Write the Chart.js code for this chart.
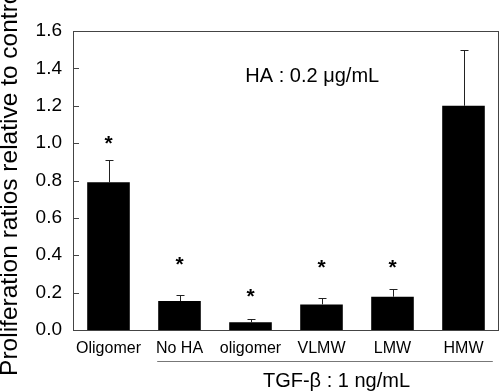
<!DOCTYPE html>
<html>
<head>
<meta charset="utf-8">
<script src="https://cdn.jsdelivr.net/npm/chart.js@4.4.0/dist/chart.umd.min.js"></script>
<style>
  html, body { margin: 0; padding: 0; background: #fff; }
</style>
</head>
<body>
<canvas id="prolifChart" width="500" height="392"></canvas>
<script>
// values
const categories = ['Oligomer', 'No HA', 'oligomer', 'VLMW', 'LMW', 'HMW'];
const ratios = [0.79, 0.155, 0.041, 0.137, 0.178, 1.20];
const errors = [0.12, 0.032, 0.016, 0.033, 0.040, 0.30];
const starLevels = [1.03, 0.38, 0.21, 0.364, 0.364, null];
const yTicks = [0, 0.2, 0.4, 0.6, 0.8, 1.0, 1.2, 1.4, 1.6];

const font = 'Liberation Sans, Arial, sans-serif';
const axisColor = '#444';

// box, inward ticks, error bars, asterisks and the text notes
const extras = {
    id: 'extras',
    afterDatasetsDraw(chart) {
        const ctx = chart.ctx;
        const area = chart.chartArea;
        const x = chart.scales.x;
        const y = chart.scales.y;
        const bars = chart.getDatasetMeta(0).data;
        ctx.save();

        // frame
        ctx.strokeStyle = axisColor;
        ctx.lineWidth = 1;
        ctx.strokeRect(area.left + 0.5, area.top + 0.5, area.right - area.left - 1, area.bottom - area.top);

        // inward ticks on y
        y.ticks.forEach(t => {
            const py = Math.round(y.getPixelForValue(t.value)) + 0.5;
            ctx.beginPath();
            ctx.moveTo(area.left, py);
            ctx.lineTo(area.left + 6, py);
            ctx.stroke();
        });

        // error bars (upper only)
        ctx.strokeStyle = '#222';
        bars.forEach((bar, i) => {
            const px = Math.round(bar.x) + 0.5;
            const top = Math.round(y.getPixelForValue(ratios[i] + errors[i])) + 0.5;
            ctx.beginPath();
            ctx.moveTo(px, bar.y);
            ctx.lineTo(px, top);
            ctx.moveTo(px - 4, top);
            ctx.lineTo(px + 4, top);
            ctx.stroke();
        });

        // asterisks
        ctx.fillStyle = '#000';
        ctx.font = 'bold 21px ' + font;
        ctx.textAlign = 'center';
        ctx.textBaseline = 'alphabetic';
        bars.forEach((bar, i) => {
            if (starLevels[i] == null) return;
            ctx.fillText('*', bar.x, y.getPixelForValue(starLevels[i]) + 12);
        });

        // HA note
        ctx.font = '20px ' + font;
        ctx.fillText('HA : 0.2 \u03bcg/mL', x.getPixelForValue(2.87), y.getPixelForValue(1.327));

        // TGF bracket line and label
        const b1 = bars[1], b5 = bars[5];
        const lineY = area.bottom + 31.5;
        ctx.strokeStyle = '#777';
        ctx.beginPath();
        ctx.moveTo(b1.x - b1.width / 2 - 1, lineY);
        ctx.lineTo(b5.x + b5.width / 2 + 8, lineY);
        ctx.stroke();
        ctx.fillText('TGF-\u03b2 : 1 ng/mL', (b1.x + b5.x) / 2 + 15, area.bottom + 57);

        ctx.restore();
    }
};

new Chart(document.getElementById('prolifChart'), {
    type: 'bar',
    data: {
        labels: categories,
        datasets: [{
            data: ratios,
            backgroundColor: '#000',
            borderColor: '#000',
            borderWidth: 0,
            barPercentage: 0.6,
            categoryPercentage: 1.0
        }]
    },
    options: {
        responsive: false,
        animation: false,
        layout: { padding: { left: 0, right: 1, top: 31, bottom: 0 } },
        plugins: {
            legend: { display: false },
            tooltip: { enabled: false }
        },
        scales: {
            x: {
                grid: { display: false, drawTicks: false },
                border: { display: false },
                ticks: { color: '#000', font: { family: font, size: 16 }, padding: 9, maxRotation: 0, autoSkip: false },
                afterFit: s => { s.height = 62; }
            },
            y: {
                min: 0,
                max: 1.6,
                afterBuildTicks: s => { s.ticks = yTicks.map(v => ({ value: v })); },
                grid: { display: false, drawTicks: false },
                border: { display: false },
                ticks: {
                    color: '#000',
                    font: { family: font, size: 19 },
                    padding: 11,
                    callback: v => Number(v).toFixed(1)
                },
                title: {
                    display: true,
                    text: 'Proliferation ratios relative to control',
                    color: '#000',
                    font: { family: font, size: 24.5, lineHeight: 0.8 },
                    padding: 0
                },
                afterFit: s => { s.width = 73; }
            }
        }
    },
    plugins: [extras]
});
</script>
</body>
</html>
